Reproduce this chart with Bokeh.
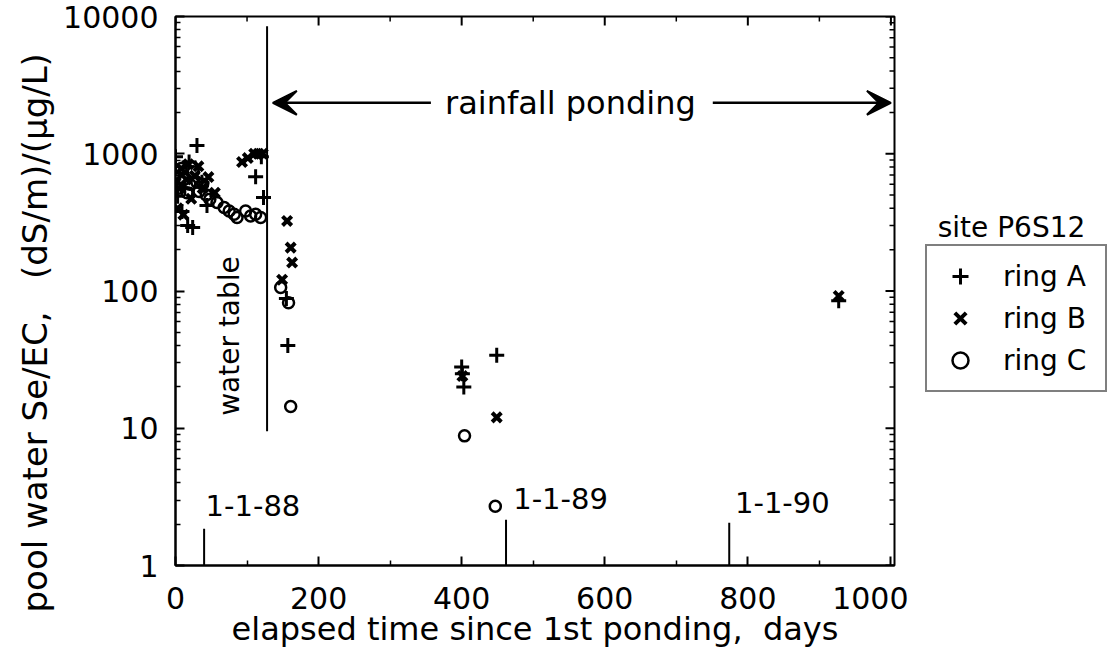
import numpy as np
from bokeh.plotting import figure
from bokeh.layouts import row
from bokeh.models import (Range1d, FixedTicker, NumeralTickFormatter,
                          Arrow, VeeHead, Legend, LegendItem, Title)
from bokeh.core.properties import value
from bokeh.embed import file_html
from bokeh.resources import INLINE

FONT = "DejaVu Sans"

# ---- data (days since 1st ponding, Se/EC ratio) ----
ringA_days = [0, 3, 6, 9, 13, 17, 19, 24, 30, 37, 44, 112, 120, 123, 155, 157, 400, 401, 403, 449, 927]
ringA_vals = [950, 490, 720, 380, 560, 300, 870, 290, 1150, 620, 420, 680, 950, 480, 88, 40, 28, 25, 20, 34, 85]

ringB_days = [1, 3, 5, 8, 11, 15, 18, 22, 27, 32, 38, 46, 55, 93, 101, 110, 116, 122, 149, 156, 161, 163, 401, 449, 927]
ringB_vals = [640, 400, 560, 780, 360, 650, 840, 470, 690, 810, 560, 676, 520, 870, 930, 1000, 1000, 1000, 121, 324, 207, 161, 24, 12, 92]

ringC_days = [4, 8, 12, 16, 20, 25, 30, 33, 38, 43, 48, 58, 68, 75, 82, 86, 98, 105, 112, 119, 147, 158, 161, 404, 447]
ringC_vals = [560, 780, 650, 520, 600, 740, 620, 530, 600, 500, 467, 441, 406, 383, 363, 343, 383, 352, 363, 343, 106, 82, 14.4, 8.8, 2.7]

x_ticks = [0, 200, 400, 600, 800, 1000]
x_minor = [100, 300, 500, 700, 900]
y_ticks = [1, 10, 100, 1000, 10000]
y_minor = [k * 10 ** d for d in range(4) for k in range(2, 10)]

date_labels = ["1-1-88", "1-1-89", "1-1-90"]
date_days = [40, 462, 774]

series_names = ["ring A", "ring B", "ring C"]
site_name = "site P6S12"
x_title = "elapsed time since 1st ponding,\u00a0 days"
y_title = "pool water Se/EC,\u00a0\u00a0 (dS/m)/(\u03bcg/L)"

# ---- annotation positions ----
date_line_tops = [1.85, 2.15, 2.05]
date_label_x = [42, 472, 782]
date_label_y = [2.75, 3.1, 2.9]
WT_DAY, WT_LOW, WT_HIGH = 128, 9.5, 8500
ARROW_Y = 2350

H = 670
W1, W2 = 908, 202
BL, BR, BT, BB = 175, 14, 16, 105
FW, FH = W1 - BL - BR, H - BT - BB
X0, X1, Y0, Y1 = 0, 1005, 1, 10000

p = figure(width=W1, height=H, x_range=Range1d(X0, X1), y_range=Range1d(Y0, Y1),
           y_axis_type="log", output_backend="svg", toolbar_location=None,
           min_border_left=BL, min_border_right=BR, min_border_top=BT, min_border_bottom=BB)
p.xgrid.visible = False
p.ygrid.visible = False
p.outline_line_color = "black"
p.outline_line_width = 2
p.background_fill_color = "white"
p.border_fill_color = "white"

A_STYLE = dict(marker="cross", size=15, line_width=3, line_color="black")
B_STYLE = dict(marker="x", size=13, line_width=4, line_color="black")
C_STYLE = dict(marker="circle", size=11, line_width=2.5, line_color="black", fill_alpha=0)


def style(ax, standoff):
    ax.axis_line_width = 2
    ax.axis_line_color = "black"
    ax.major_tick_in = 9
    ax.major_tick_out = 0
    ax.minor_tick_in = 5
    ax.minor_tick_out = 0
    ax.major_tick_line_width = 2
    ax.minor_tick_line_width = 1.5
    ax.major_tick_line_color = "black"
    ax.minor_tick_line_color = "black"
    ax.major_label_text_font = FONT
    ax.major_label_text_font_size = "30px"
    ax.major_label_text_color = "black"
    ax.major_label_standoff = standoff


xa = p.xaxis[0]
xa.ticker = FixedTicker(ticks=x_ticks, minor_ticks=x_minor)
style(xa, 21)
xa.axis_label = x_title
xa.axis_label_text_font = FONT
xa.axis_label_text_font_size = "32px"
xa.axis_label_text_font_style = "normal"
xa.axis_label_text_color = "black"
xa.axis_label_standoff = -2

ya = p.yaxis[0]
ya.ticker = FixedTicker(ticks=y_ticks, minor_ticks=y_minor)
ya.formatter = NumeralTickFormatter(format="0")
style(ya, 17)

# y-axis title: a side-panel title, started below the frame's bottom like the original
p.add_layout(Title(text=y_title, align="left", vertical_align="middle", offset=-47, standoff=10,
                   text_font=FONT, text_font_size="34px", text_font_style="normal",
                   text_color="black"), "left")

# inward ticks on the top and right frame edges
maj_x, min_x = 9 * (X1 - X0) / FW, 5 * (X1 - X0) / FW
maj_y, min_y = 10 ** (9 * 4 / FH), 10 ** (5 * 4 / FH)
p.segment(x0=x_ticks, y0=[Y1] * len(x_ticks), x1=x_ticks, y1=[Y1 / maj_y] * len(x_ticks),
          line_width=2, line_color="black")
p.segment(x0=x_minor, y0=[Y1] * len(x_minor), x1=x_minor, y1=[Y1 / min_y] * len(x_minor),
          line_width=1.5, line_color="black")
p.segment(x0=[X1] * len(y_ticks), y0=y_ticks, x1=[X1 - maj_x] * len(y_ticks), y1=y_ticks,
          line_width=2, line_color="black")
p.segment(x0=[X1] * len(y_minor), y0=y_minor, x1=[X1 - min_x] * len(y_minor), y1=y_minor,
          line_width=1.5, line_color="black")

# ---- data marks ----
p.scatter(ringA_days, ringA_vals, **A_STYLE)
p.scatter(ringB_days, ringB_vals, **B_STYLE)
p.scatter(ringC_days, ringC_vals, **C_STYLE)

# ---- annotations ----
p.segment(x0=[WT_DAY], y0=[WT_LOW], x1=[WT_DAY], y1=[WT_HIGH], line_width=2, line_color="black")
p.text(x=[76], y=[47], text=["water table"], angle=np.pi / 2, text_align="center",
       text_baseline="middle", text_font=value(FONT), text_font_size="28px", text_color="black")

p.segment(x0=date_days, y0=[1] * 3, x1=date_days, y1=date_line_tops, line_width=2, line_color="black")
p.text(x=date_label_x, y=date_label_y, text=date_labels, text_align="left", text_baseline="middle",
       text_font=value(FONT), text_font_size="29px", text_color="black")

head = dict(size=24, fill_color="black", line_color="black", line_width=2)
p.add_layout(Arrow(end=VeeHead(**head), x_start=357, y_start=ARROW_Y, x_end=136, y_end=ARROW_Y,
                   line_width=2.5, line_color="black"))
p.add_layout(Arrow(end=VeeHead(**head), x_start=751, y_start=ARROW_Y, x_end=1000, y_end=ARROW_Y,
                   line_width=2.5, line_color="black"))
p.text(x=[552], y=[ARROW_Y], text=["rainfall ponding"], text_align="center", text_baseline="middle",
       text_font=value(FONT), text_font_size="32px", text_color="black")

# ---- legend panel (separate figure to the right, pixel coordinates within its frame) ----
q = figure(width=W2, height=H, x_range=Range1d(0, W2), y_range=Range1d(0, FH),
           output_backend="svg", toolbar_location=None,
           min_border_left=0, min_border_right=0, min_border_top=BT, min_border_bottom=BB,
           x_axis_location=None, y_axis_location=None)
q.xgrid.visible = False
q.ygrid.visible = False
q.outline_line_color = None
q.background_fill_color = "white"
q.border_fill_color = "white"

# hidden copies of the series: they only supply the legend glyphs
lA = q.scatter(ringA_days, ringA_vals, visible=False, **A_STYLE)
lB = q.scatter(ringB_days, ringB_vals, visible=False, **B_STYLE)
lC = q.scatter(ringC_days, ringC_vals, visible=False, **C_STYLE)
legend = Legend(items=[LegendItem(label=series_names[0], renderers=[lA]),
                       LegendItem(label=series_names[1], renderers=[lB]),
                       LegendItem(label=series_names[2], renderers=[lC])],
                location=(17, 173), border_line_color="black", border_line_width=2,
                background_fill_color="white", background_fill_alpha=1,
                label_text_font=FONT, label_text_font_size="28px", label_text_color="black",
                padding=10, spacing=2, glyph_width=46, glyph_height=40, label_height=40,
                label_width=92, label_standoff=20, margin=0, click_policy="none")
q.add_layout(legend)
q.text(x=[103], y=[338], text=[site_name], text_align="center", text_baseline="alphabetic",
       text_font=value(FONT), text_font_size="28px", text_color="black")

layout = row(p, q, spacing=0)
open("out.html", "w").write(file_html(layout, INLINE))
